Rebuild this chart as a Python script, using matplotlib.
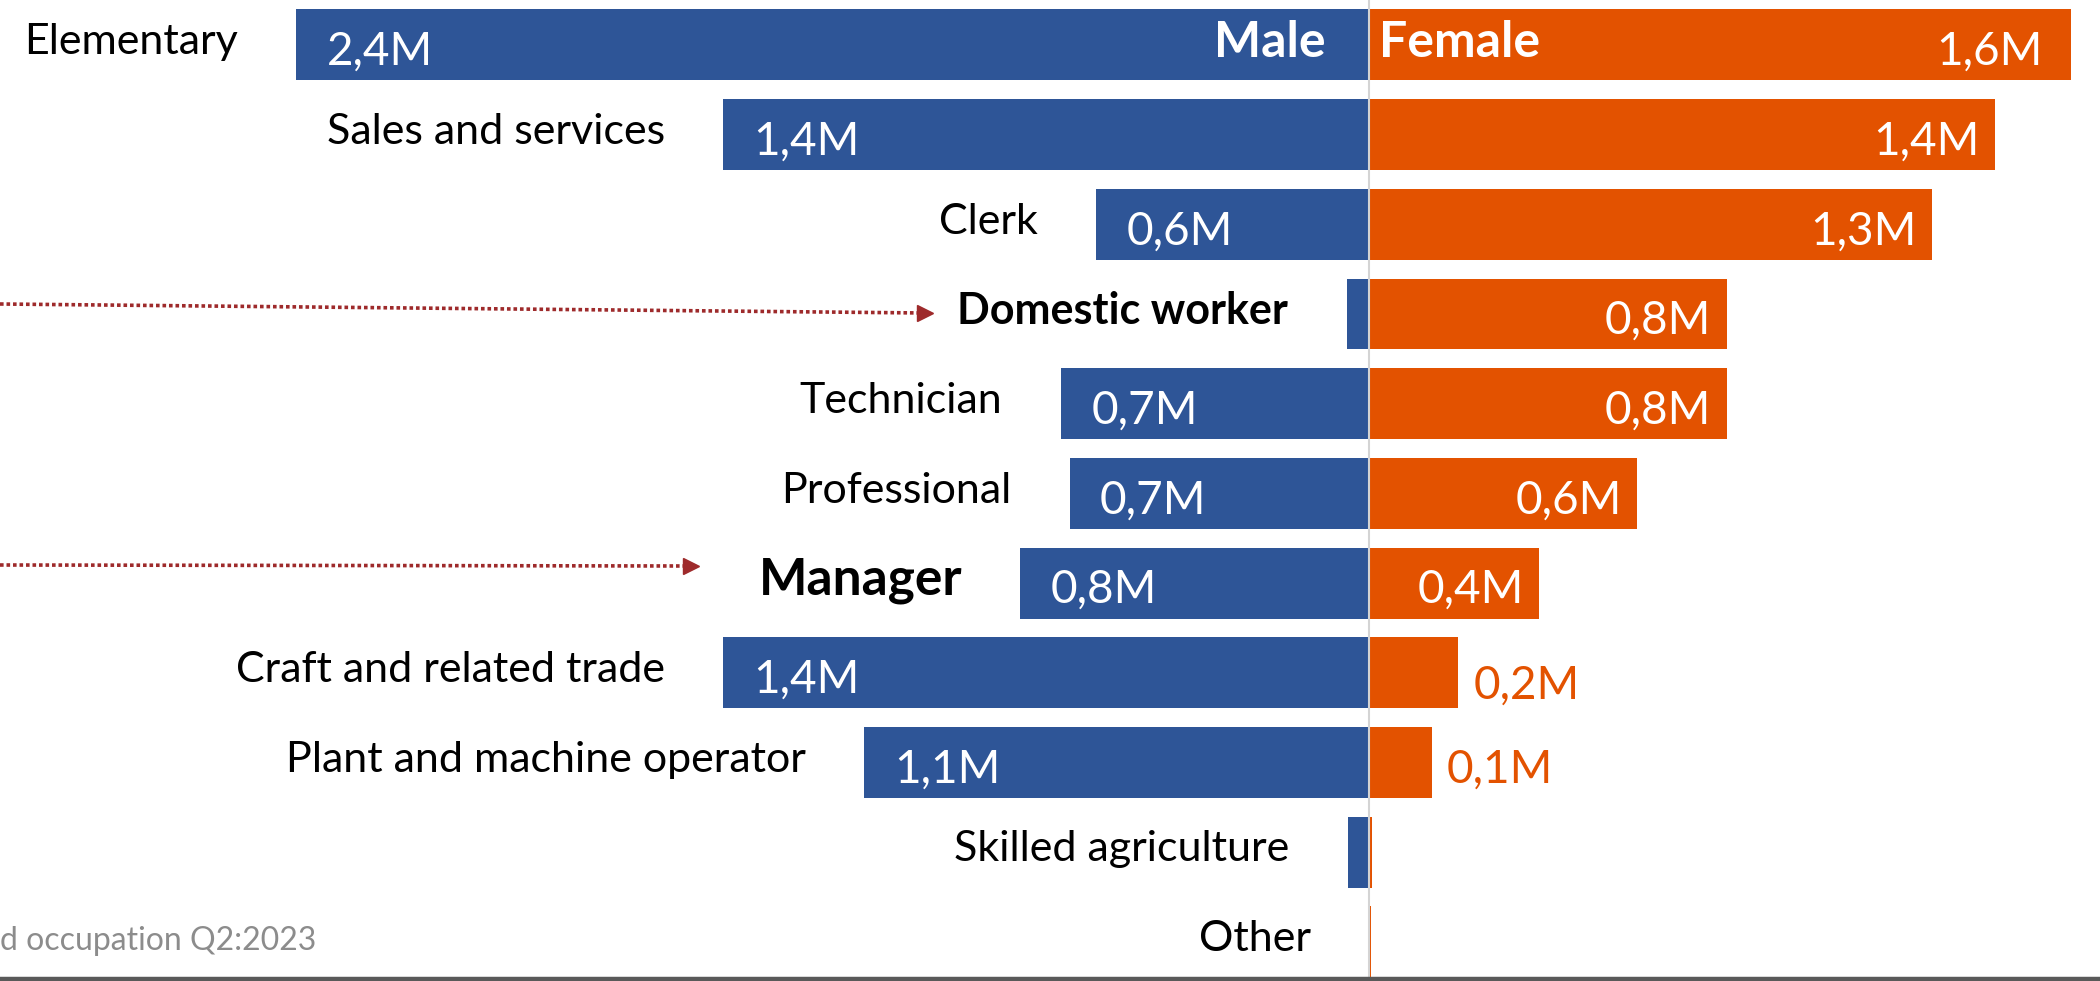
import matplotlib
matplotlib.use("Agg")
import matplotlib.pyplot as plt
from matplotlib.lines import Line2D

# ---- data ----
categories = ["Elementary", "Sales and services", "Clerk", "Domestic worker",
              "Technician", "Professional", "Manager", "Craft and related trade",
              "Plant and machine operator", "Skilled agriculture", "Other"]
male = [2.40, 1.445, 0.61, 0.05, 0.69, 0.67, 0.78, 1.445, 1.13, 0.047, 0.0]
female = [1.57, 1.40, 1.26, 0.80, 0.80, 0.60, 0.38, 0.20, 0.14, 0.007, 0.004]
highlight = ["Domestic worker", "Manager"]
footer_text = "d occupation Q2:2023"

# ---- style ----
BLUE = "#2E5597"
ORANGE = "#E35200"
ARROW = "#9E2A2B"
FONT = ["Lato", "DejaVu Sans"]
plt.rcParams["font.family"] = FONT

W, H, DPI = 2100, 981, 100
fig = plt.figure(figsize=(W / DPI, H / DPI), dpi=DPI)
ax = fig.add_axes([0, 0, 1, 1])
ax.axis("off")

px_per_m = 447.0
center_px = 1369.0
ax.set_xlim(-center_px / px_per_m, (W - center_px) / px_per_m)
row_px, first_px = 89.7, 44.9
ax.set_ylim((H - first_px) / row_px, -first_px / row_px)

y = list(range(len(categories)))
bh = 0.79
ax.barh(y, [-m for m in male], height=bh, color=BLUE, edgecolor="none", zorder=2)
ax.barh(y, female, height=bh, color=ORANGE, edgecolor="none", zorder=2)
ax.axvline(0, color="#d4d4d4", lw=1.5, zorder=3)

def fmt(v):
    return f"{v:.1f}M".replace(".", ",")

CAT_SIZE = 31
VAL_SIZE = 33
for i, (c, m, f) in enumerate(zip(categories, male, female)):
    bold = c in highlight
    size = 37 if c == "Manager" else CAT_SIZE
    ax.annotate(c, xy=(-m, i), xytext=(-42, 2), textcoords="offset points",
                ha="right", va="center", fontsize=size,
                fontweight="bold" if bold else "normal", color="black")
    if m >= 0.3:
        ax.annotate(fmt(m), xy=(-m, i), xytext=(22, -5), textcoords="offset points",
                    ha="left", va="center", fontsize=VAL_SIZE, color="white", zorder=4)
    if f >= 0.3:
        pad = -20 if i == 0 else -11
        ax.annotate(fmt(f), xy=(f, i), xytext=(pad, -5), textcoords="offset points",
                    ha="right", va="center", fontsize=VAL_SIZE, color="white", zorder=4)
    elif f >= 0.1:
        ax.annotate(fmt(f), xy=(f, i), xytext=(11, -9 if f >= 0.15 else -5),
                    textcoords="offset points",
                    ha="left", va="center", fontsize=VAL_SIZE, color=ORANGE, zorder=4)

ax.annotate("Male", xy=(0, 0), xytext=(-31, 2), textcoords="offset points",
            ha="right", va="center", fontsize=36, fontweight="bold", color="white", zorder=4)
ax.annotate("Female", xy=(0, 0), xytext=(7, 2), textcoords="offset points",
            ha="left", va="center", fontsize=36, fontweight="bold", color="white", zorder=4)

# footer text (cut at left edge)
fig.text(0, 1 - 941 / H, footer_text, ha="left", va="center", fontsize=23, color="#8c8c8c")

# bottom rule
fig.add_artist(Line2D([0, 1], [2.0 / H, 2.0 / H], transform=fig.transFigure,
                      color="#595959", lw=3.2))

# dotted arrows from the left edge
def arrow(x0, y0, x1, y1):
    fx = lambda v: v / W
    fy = lambda v: 1 - v / H
    fig.add_artist(Line2D([fx(x0), fx(x1 - 8)], [fy(y0), fy(y1)], transform=fig.transFigure,
                          color=ARROW, lw=2.6, dashes=(1, 0.8)))
    fig.add_artist(Line2D([fx(x1 - 8)], [fy(y1)], transform=fig.transFigure,
                          marker=">", markersize=11, color=ARROW, lw=0))

arrow(0, 304, 933, 313)
arrow(0, 565, 699, 566)

fig.savefig("out.png", dpi=DPI)
